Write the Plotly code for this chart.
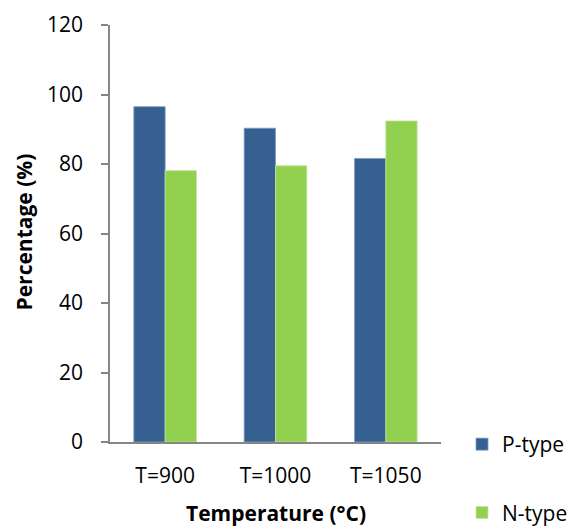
import plotly.graph_objects as go

categories = ["T=900", "T=1000", "T=1050"]
p_type = [96.5, 90.3, 81.6]
n_type = [78.1, 79.5, 92.4]
y_ticks = [0, 20, 40, 60, 80, 100, 120]

FONT = "Open Sans"
AXIS_COLOR = "#868686"

fig = go.Figure()
fig.add_trace(go.Bar(
    x=categories, y=p_type, name="P-type", legendgroup="p",
    marker=dict(color="#366092", line=dict(color="#7f9cc0", width=0.8)),
))
fig.add_trace(go.Bar(
    x=categories, y=n_type, name="N-type", legendgroup="n",
    marker=dict(color="#92D050", line=dict(color="#c3e8a0", width=0.8)),
))

W, H = 576, 529
L, R, T, B = 110, 135, 25, 87
pw = W - L - R
ph = H - T - B

fig.update_layout(
    width=W, height=H,
    margin=dict(l=L, r=R, t=T, b=B, pad=0, autoexpand=False),
    paper_bgcolor="white", plot_bgcolor="white",
    font=dict(family=FONT, size=21, color="black"),
    barmode="group", bargap=0.432, bargroupgap=0,
    showlegend=True,
    legend=dict(
        x=(462 - L) / pw, xanchor="left",
        y=(H - B - 424) / ph, yanchor="top",
        traceorder="grouped", tracegroupgap=38,
        font=dict(family=FONT, size=21),
        bgcolor="rgba(0,0,0,0)",
    ),
    xaxis=dict(
        automargin=False,
        showline=True, linecolor=AXIS_COLOR, linewidth=1.5,
        ticks="", showgrid=False, zeroline=False,
        tickfont=dict(family=FONT, size=21),
        ticklabelstandoff=14,
    ),
    yaxis=dict(
        automargin=False,
        range=[0, 120], tickvals=y_ticks,
        showline=True, linecolor=AXIS_COLOR, linewidth=1.5,
        ticks="outside", ticklen=7, tickcolor=AXIS_COLOR, tickwidth=1.5,
        showgrid=False, zeroline=False,
        tickfont=dict(family=FONT, size=21),
        ticklabelstandoff=14,
    ),
    annotations=[
        dict(
            text="<b>Percentage (%)</b>", textangle=-90,
            xref="paper", yref="paper",
            x=(23 - L) / pw, xanchor="center",
            y=(H - B - 232.5) / ph, yanchor="middle",
            showarrow=False, font=dict(family=FONT, size=21),
        ),
        dict(
            text="<b>Temperature (°C)</b>",
            xref="paper", yref="paper",
            x=(275.5 - L) / pw, xanchor="center",
            y=(H - B - 513) / ph, yanchor="middle",
            showarrow=False, font=dict(family=FONT, size=21),
        ),
    ],
)

fig.write_html("out.html")
